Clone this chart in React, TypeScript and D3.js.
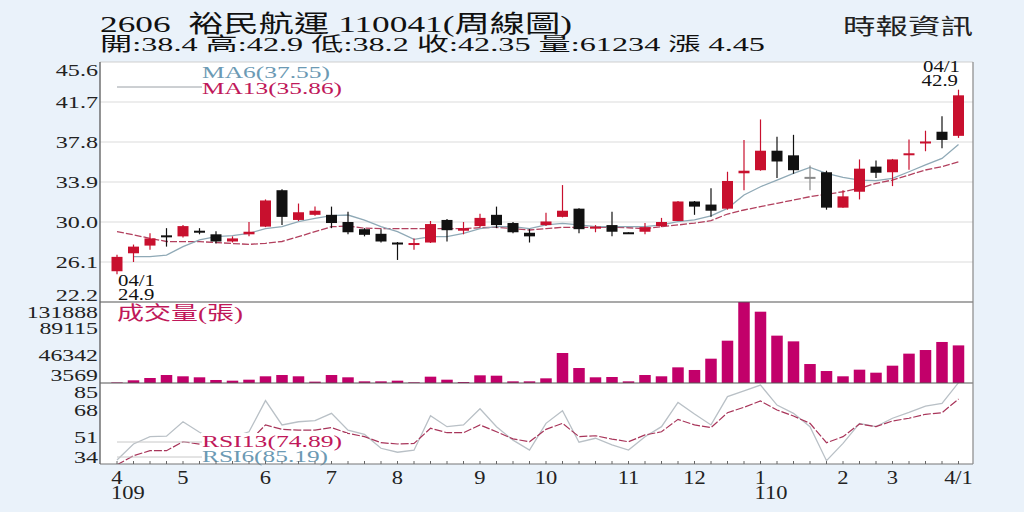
import * as d3 from 'd3'

// weekly candles, 109/04/01 .. 110/04/01
const openPrices = [25.2, 26.95, 27.7, 28.7, 28.6, 29.15, 28.8, 28.1, 28.8, 29.55, 33.1, 30.2, 30.7, 30.7, 30.0, 29.3, 28.85, 28.0, 27.85, 28.0, 30.2, 29.15, 29.6, 30.7, 29.9, 28.95, 29.7, 30.5, 31.3, 29.35, 29.7, 29.0, 29.05, 29.6, 30.1, 32.0, 31.7, 31.3, 34.75, 35.05, 36.95, 36.5, 34.4, 34.85, 31.4, 32.95, 35.4, 34.85, 36.55, 37.7, 38.8, 38.4]
const highPrices = [26.8, 27.8, 28.9, 29.4, 29.7, 29.4, 29.1, 28.6, 30.0, 32.2, 33.2, 31.8, 31.5, 31.5, 31.0, 29.4, 29.3, 28.05, 28.4, 30.1, 30.3, 30.0, 30.8, 31.5, 30.0, 29.3, 30.9, 33.6, 31.35, 29.7, 31.0, 29.0, 29.9, 30.4, 32.05, 32.05, 33.3, 34.9, 38.0, 40.0, 38.3, 38.5, 35.5, 35.0, 33.1, 36.1, 36.0, 36.15, 38.05, 38.9, 40.3, 42.9]
const lowPrices = [24.9, 26.1, 27.3, 27.6, 28.5, 28.8, 27.9, 28.0, 28.6, 29.5, 29.7, 30.1, 30.6, 29.4, 28.8, 28.6, 28.0, 26.3, 27.3, 27.95, 28.1, 28.8, 29.5, 29.4, 28.9, 28.0, 29.6, 30.45, 28.9, 29.0, 28.6, 28.85, 28.8, 29.5, 30.1, 30.7, 30.5, 31.2, 33.1, 35.0, 34.3, 34.7, 33.1, 31.2, 31.4, 32.2, 34.3, 33.5, 35.1, 36.9, 37.2, 38.2]
const closePrices = [26.6, 27.6, 28.4, 28.55, 29.6, 29.0, 28.1, 28.4, 29.05, 32.1, 30.5, 30.95, 31.1, 29.9, 29.0, 28.75, 28.1, 27.85, 27.95, 29.8, 29.2, 29.4, 30.4, 29.7, 29.0, 28.6, 30.05, 31.1, 29.3, 29.55, 29.05, 28.9, 29.5, 30.0, 32.0, 31.5, 31.1, 34.0, 35.0, 36.95, 35.9, 35.05, 34.4, 31.4, 32.5, 35.2, 34.8, 36.1, 36.7, 37.85, 38.0, 42.35]
const volumes = [900, 4400, 8140, 13000, 10900, 9270, 4900, 3800, 5400, 10900, 13000, 10900, 2200, 13000, 9270, 2700, 2700, 3800, 1100, 10300, 5400, 1600, 12500, 11900, 2700, 2700, 7600, 48850, 24400, 9270, 9770, 2700, 13000, 10900, 25500, 21200, 39600, 68900, 131888, 116100, 77100, 67800, 30900, 19500, 10900, 21700, 16800, 28200, 47800, 53700, 66800, 61234]
const ma6 = [null, 26.62, 26.62, 26.78, 27.6, 28.25, 28.57, 28.67, 28.9, 29.35, 29.54, 30.03, 30.36, 30.62, 30.68, 30.19, 29.54, 29.06, 28.3, 28.57, 28.57, 28.9, 29.35, 29.54, 29.54, 29.35, 29.71, 29.87, 29.71, 29.54, 29.54, 29.54, 29.54, 29.71, 30.03, 30.2, 30.6, 31.33, 32.63, 33.44, 34.09, 34.74, 35.33, 34.74, 34.35, 34.09, 34.03, 34.26, 34.9, 35.56, 36.2, 37.55]
const ma13 = [29.06, 28.75, 28.4, 28.1, 28.08, 28.08, 28.0, 27.9, 27.82, 27.92, 28.1, 28.57, 29.06, 29.54, 29.6, 29.4, 29.35, 29.35, 29.35, 29.35, 29.35, 29.35, 29.44, 29.48, 29.35, 29.22, 29.35, 29.48, 29.48, 29.48, 29.48, 29.44, 29.35, 29.54, 29.71, 29.9, 30.13, 30.78, 31.17, 31.5, 31.82, 32.14, 32.47, 32.7, 32.95, 33.28, 33.77, 34.09, 34.58, 35.07, 35.4, 35.86]
const rsi6 = [36.5, 46.6, 51.2, 51.5, 60.6, 54, 49, 51, 54.3, 73.9, 58.6, 60.6, 61.3, 65.9, 55.3, 52.6, 43.9, 41.4, 42.7, 64.4, 57.5, 58.6, 68.8, 57.5, 49, 42.8, 59.6, 67.6, 47.7, 50.2, 46.0, 42.8, 51.2, 57.5, 72.8, 65.5, 58.6, 76.4, 80.0, 83.7, 71.1, 65.9, 57.5, 36.1, 47.0, 59.6, 57.5, 62.8, 66.5, 70.5, 72.2, 85.19]
const rsi13 = [33.5, 39.2, 42.4, 42.4, 48.0, 46.5, 45, 46, 48, 58.6, 55.8, 55.3, 55.3, 56.9, 53.3, 51.2, 47.4, 46.6, 46.9, 56.5, 53.7, 53.7, 58.6, 54.3, 49.8, 48.0, 55.8, 59.6, 51.2, 51.8, 49.7, 48.0, 52.3, 54.3, 62.1, 58.6, 56.9, 66.3, 69.7, 73.7, 68.0, 64.2, 59.6, 47.4, 51.2, 59.2, 57.5, 61.1, 62.8, 65.3, 66.3, 74.89]

const monthTicks = [
  { index: 0, label: '4' }, { index: 4, label: '5' }, { index: 9, label: '6' },
  { index: 13, label: '7' }, { index: 17, label: '8' }, { index: 22, label: '9' },
  { index: 26, label: '10' }, { index: 31, label: '11' }, { index: 35, label: '12' },
  { index: 39, label: '1' }, { index: 44, label: '2' }, { index: 47, label: '3' },
  { index: 51, label: '4/1' },
]
const yearTicks = [{ index: 0, label: '109' }, { index: 39, label: '110' }]
const priceTicks = [45.6, 41.7, 37.8, 33.9, 30.0, 26.1, 22.2]
const volumeTicks = [131888, 89115, 46342, 3569]
const rsiTicks = [85, 68, 51, 34]

const font = "'Liberation Serif', 'Noto Sans CJK TC', serif"
const cjkFont = "'Liberation Serif', 'Noto Sans CJK TC', sans-serif"
const bg = '#eaf2fa'
const upColor = '#c8102e'
const downColor = '#111111'
const volColor = '#c2006a'
const blueText = '#6c9ab4'
const redText = '#c0185a'

const left = 100
const right = 973
const priceTop = 62
const priceBottom = 302
const volBottom = 383
const rsiBottom = 464

const x = d3.scaleLinear().domain([0, 51]).range([117, 958.5])
const yPrice = d3.scaleLinear().domain([22.2, 45.6]).range([priceBottom, priceTop])
const yVol = d3.scaleLinear().domain([0, 131888]).range([volBottom, priceBottom])
const yRsi = d3.scaleLinear().domain([34, 85]).range([rsiBottom, volBottom])

function clampLabel(y: number, top: number, bottom: number) {
  return Math.max(top + 8, Math.min(bottom - 7, y))
}

function Stretch({ x, y, children, anchor = 'end', sx = 1.42, size = 17, fill = '#222' }: any) {
  return (
    <text
      transform={`translate(${x},${y}) scale(${sx},1)`}
      textAnchor={anchor}
      fontSize={size}
      fill={fill}
      fontFamily={font}
    >
      {children}
    </text>
  )
}

export default function App() {
  const maLine = d3
    .line<number | null>()
    .defined((d) => d != null)
    .x((_, i) => x(i))
    .y((d) => yPrice(d as number))
  const rsiLine = d3
    .line<number>()
    .x((_, i) => x(i))
    .y((d) => yRsi(d))

  const bodyW = 11
  const volW = 11.5

  return (
    <svg
      width={1024}
      height={512}
      style={{ position: 'absolute', left: 0, top: 0 }}
      fontFamily={font}
    >
      <defs>
        <clipPath id="rsi-clip">
          <rect x={left} y={volBottom} width={right - left} height={rsiBottom - volBottom} />
        </clipPath>
        <clipPath id="price-clip">
          <rect x={left} y={priceTop} width={right - left} height={priceBottom - priceTop} />
        </clipPath>
      </defs>
      <rect width={1024} height={512} fill={bg} />
      <rect x={left} y={priceTop} width={right - left} height={rsiBottom - priceTop} fill="#fff" />

      {/* header */}
      <text x={100} y={32} fontSize={24} fill="#111" fontFamily={cjkFont} textLength={472} lengthAdjust="spacingAndGlyphs" style={{ whiteSpace: 'pre' }}>
        2606  裕民航運 110041(周線圖)
      </text>
      <text x={100} y={51} fontSize={19} fill="#111" fontFamily={cjkFont} textLength={665} lengthAdjust="spacingAndGlyphs" style={{ whiteSpace: 'pre' }}>
        開:38.4 高:42.9 低:38.2 收:42.35 量:61234 漲 4.45
      </text>
      <text x={843} y={34} fontSize={22} fill="#222" fontFamily={cjkFont} textLength={130} lengthAdjust="spacingAndGlyphs">
        時報資訊
      </text>

      {/* price grid */}
      {priceTicks.slice(1, -1).map((t) => (
        <line key={t} x1={left} x2={right} y1={yPrice(t)} y2={yPrice(t)} stroke="#dcdcdc" strokeWidth={1.2} />
      ))}
      <line x1={left} x2={right} y1={priceTop} y2={priceTop} stroke="#cfcfcf" />

      {/* legend MA */}
      <line x1={117} x2={202} y1={87} y2={87} stroke="#9aa0a6" strokeWidth={1} />
      <text x={202} y={78} fontSize={17} fill={blueText} textLength={128} lengthAdjust="spacingAndGlyphs">MA6(37.55)</text>
      <text x={202} y={94} fontSize={17} fill={redText} textLength={140} lengthAdjust="spacingAndGlyphs">MA13(35.86)</text>

      {/* moving averages */}
      <g clipPath="url(#price-clip)">
        <path d={maLine(ma13) ?? ''} fill="none" stroke="#b2405e" strokeWidth={1.3} strokeDasharray="7,2" />
        <path d={maLine(ma6) ?? ''} fill="none" stroke="#8fa9b6" strokeWidth={1.3} />
      </g>

      {/* candles */}
      {openPrices.map((o, i) => {
        const c = closePrices[i]
        const color = c > o ? upColor : c < o ? downColor : '#888'
        const yTop = yPrice(Math.max(o, c))
        const h = Math.max(2, yPrice(Math.min(o, c)) - yTop)
        return (
          <g key={i}>
            <line x1={x(i)} x2={x(i)} y1={yPrice(highPrices[i])} y2={yPrice(lowPrices[i])} stroke={color} strokeWidth={1.2} />
            <rect x={x(i) - bodyW / 2} y={yTop} width={bodyW} height={h} fill={color} />
          </g>
        )
      })}

      {/* annotations */}
      <Stretch x={118} y={286} anchor="start" sx={1.3} size={16} fill="#111">04/1</Stretch>
      <Stretch x={118} y={300} anchor="start" sx={1.3} size={16} fill="#111">24.9</Stretch>
      <Stretch x={960} y={72} anchor="end" sx={1.3} size={16} fill="#111">04/1</Stretch>
      <Stretch x={958} y={86} anchor="end" sx={1.3} size={16} fill="#111">42.9</Stretch>

      {/* volume */}
      {volumes.map((v, i) => (
        <rect key={i} x={x(i) - volW / 2} y={yVol(v)} width={volW} height={volBottom - yVol(v)} fill={volColor} />
      ))}
      <text x={117} y={320} fontSize={19} fill={redText} fontFamily={cjkFont} textLength={126} lengthAdjust="spacingAndGlyphs">成交量(張)</text>

      {/* RSI */}
      <g clipPath="url(#rsi-clip)">
        <path d={rsiLine(rsi6) ?? ''} fill="none" stroke="#b9c0c6" strokeWidth={1.3} />
        <path d={rsiLine(rsi13) ?? ''} fill="none" stroke="#a8355a" strokeWidth={1.2} strokeDasharray="8,2" />
      </g>
      <rect x={201} y={433} width={146} height={30} fill="#fff" />
      <line x1={117} x2={202} y1={442} y2={442} stroke="#c8c8c8" />
      <line x1={117} x2={202} y1={457} y2={457} stroke="#c8c8c8" />
      <text x={202} y={447} fontSize={17} fill={redText} textLength={140} lengthAdjust="spacingAndGlyphs">RSI13(74.89)</text>
      <text x={202} y={462} fontSize={17} fill={blueText} textLength={126} lengthAdjust="spacingAndGlyphs">RSI6(85.19)</text>

      {/* frame */}
      <line x1={left} x2={right} y1={priceBottom} y2={priceBottom} stroke="#555" strokeWidth={1.2} />
      <line x1={left} x2={right} y1={volBottom} y2={volBottom} stroke="#555" strokeWidth={1.2} />
      <line x1={left} x2={right} y1={rsiBottom} y2={rsiBottom} stroke="#777" strokeWidth={1.2} />
      <line x1={left} x2={left} y1={priceTop} y2={rsiBottom} stroke="#666" strokeWidth={1.4} />
      <line x1={right} x2={right} y1={priceTop} y2={rsiBottom} stroke="#888" strokeWidth={1.2} />

      {/* axis ticks */}
      {openPrices.map((_, i) => (
        <line key={i} x1={x(i)} x2={x(i)} y1={rsiBottom - 3} y2={rsiBottom} stroke="#666" />
      ))}

      {/* y labels */}
      {priceTicks.map((t) => (
        <Stretch key={t} x={98} y={clampLabel(yPrice(t), priceTop, priceBottom) + 6}>
          {t.toFixed(1)}
        </Stretch>
      ))}
      {volumeTicks.map((t) => (
        <Stretch key={t} x={98} y={clampLabel(yVol(t), priceBottom + 2, volBottom - 1) + 6} sx={1.4}>
          {t}
        </Stretch>
      ))}
      {rsiTicks.map((t) => (
        <Stretch key={t} x={98} y={clampLabel(yRsi(t), volBottom + 1, rsiBottom) + 6}>
          {t}
        </Stretch>
      ))}

      {/* x labels */}
      {monthTicks.map((m) => (
        <Stretch key={m.index} x={x(m.index)} y={484} anchor="middle" sx={1.25} size={18}>
          {m.label}
        </Stretch>
      ))}
      {yearTicks.map((m) => (
        <Stretch key={m.index} x={x(m.index) - 6} y={499} anchor="start" sx={1.25} size={18}>
          {m.label}
        </Stretch>
      ))}
    </svg>
  )
}
